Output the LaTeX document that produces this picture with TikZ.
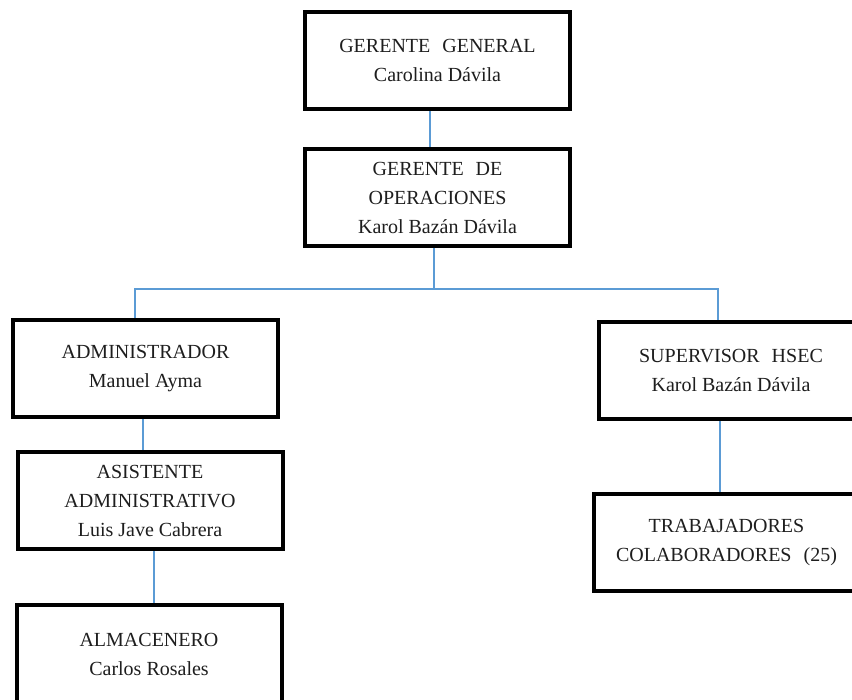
\documentclass[tikz,border=0pt]{standalone}
\usepackage{fontspec}
\setmainfont{Liberation Serif}
\definecolor{connblue}{RGB}{91,155,213}
\definecolor{txt}{RGB}{30,30,30}
\tikzset{
  orgbox/.style={draw=black, line width=4pt, minimum width=265pt, minimum height=97pt,
    inner sep=0pt, align=center, text=txt, font=\fontsize{20pt}{29pt}\selectfont},
  conn/.style={draw=connblue, line width=1.3pt}
}
\begin{document}
\begin{tikzpicture}[x=1pt,y=1pt]
\useasboundingbox (0,0) rectangle (852,700);
\clip (0,0) rectangle (852,700);
\fill[white] (0,0) rectangle (852,700);
\node[orgbox] (GG) at (437.5,639.5) {GERENTE\hspace{0.6em}GENERAL\\Carolina Dávila};
\node[orgbox] (GO) at (437.5,502.5) {GERENTE\hspace{0.6em}DE\\OPERACIONES\\Karol Bazán Dávila};
\node[orgbox] (ADM) at (145.5,331.5) {ADMINISTRADOR\\Manuel Ayma};
\node[orgbox] (SUP) at (731,329.5) {SUPERVISOR\hspace{0.6em}HSEC\\Karol Bazán Dávila};
\node[orgbox] (ASI) at (150,199) {ASISTENTE\\ADMINISTRATIVO\\Luis Jave Cabrera};
\node[orgbox] (TRA) at (726.5,157) {TRABAJADORES\\COLABORADORES\hspace{0.6em}(25)};
\node[orgbox] (ALM) at (149,46) {ALMACENERO\\Carlos Rosales};
\coordinate (bus) at (0,411);
\draw[conn] ([xshift=-7.5pt]GG.south) -- ([xshift=-7.5pt]GO.north);
\draw[conn] ([xshift=-3.5pt]GO.south) -- ([xshift=-3.5pt]GO.south |- bus);
\draw[conn] ([xshift=-10.5pt]ADM.north) -- ([xshift=-10.5pt]ADM.north |- bus)
  -- ([xshift=-13pt]SUP.north |- bus) -- ([xshift=-13pt]SUP.north);
\draw[conn] ([xshift=-2.5pt]ADM.south) -- ([xshift=-2.5pt]ADM.south |- ASI.north);
\draw[conn] ([xshift=4pt]ASI.south) -- ([xshift=4pt]ASI.south |- ALM.north);
\draw[conn] ([xshift=-11pt]SUP.south) -- ([xshift=-11pt]SUP.south |- TRA.north);
\end{tikzpicture}
\end{document}
